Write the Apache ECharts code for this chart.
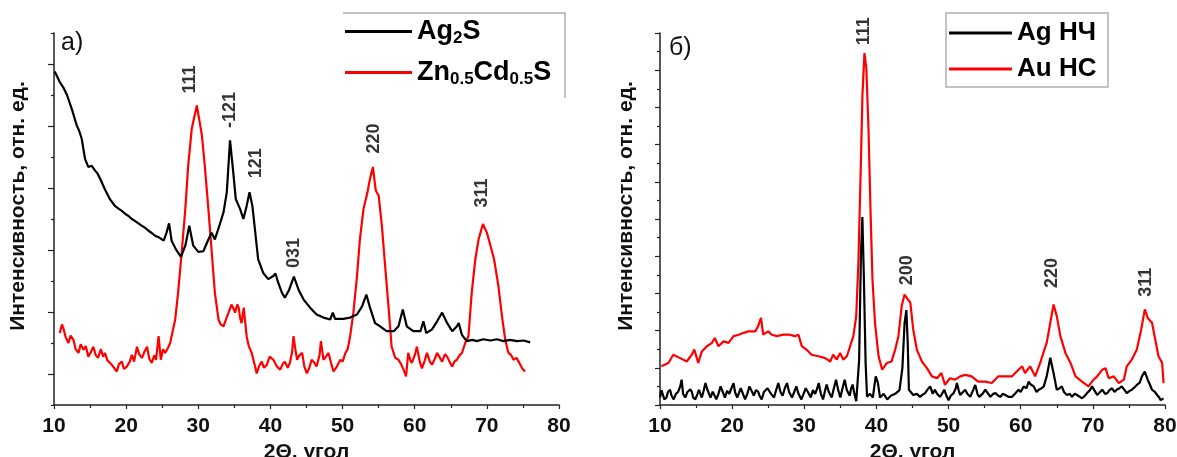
<!DOCTYPE html>
<html><head><meta charset="utf-8">
<script src="https://cdn.jsdelivr.net/npm/echarts@6/dist/echarts.min.js"></script>
<style>html,body{margin:0;padding:0;background:#fff}#c{width:1177px;height:457px}</style>
</head><body><div id="c"></div>
<script>
// ---------- DATA ----------
const xMin = 10, xMax = 80, xStep = 10;
const yMaxA = 6, yMaxB = 10;
const xAxisTitle = '2Θ, угол';
const yAxisTitle = 'Интенсивность, отн. ед.';
const panelLabels = ['а)', 'б)'];
const seriesNamesA = ['Ag2S', 'Zn0.5Cd0.5S'];
const seriesNamesB = ['Ag НЧ', 'Au НС'];

const ag2s = [[10.1,5.38],[10.8,5.21],[11.3,5.12],[11.8,5.0],[12.45,4.78],[13.15,4.51],[13.5,4.42],[13.85,4.29],[14.3,3.97],[14.75,3.84],[15.2,3.86],[15.7,3.78],[16.0,3.74],[16.4,3.65],[17.05,3.48],[17.75,3.32],[18.45,3.21],[18.9,3.17],[19.4,3.13],[19.9,3.08],[20.3,3.05],[20.8,3.0],[21.2,2.97],[21.7,2.93],[22.2,2.89],[22.6,2.86],[23.1,2.81],[23.6,2.77],[24.0,2.73],[24.6,2.7],[25.2,2.65],[25.6,2.78],[25.95,2.93],[26.3,2.65],[26.9,2.51],[27.6,2.39],[28.2,2.57],[28.75,2.89],[29.3,2.57],[30.0,2.47],[30.7,2.48],[31.4,2.67],[31.85,2.78],[32.3,2.67],[33.0,2.92],[33.5,3.11],[33.95,3.43],[34.4,4.27],[34.8,3.81],[35.2,3.32],[35.8,3.16],[36.25,3.0],[36.7,3.21],[37.1,3.43],[37.5,3.21],[37.9,2.78],[38.3,2.35],[39.0,2.13],[39.7,2.03],[40.4,2.08],[40.7,2.12],[41.0,2.0],[41.6,1.81],[42.0,1.73],[42.6,1.86],[43.25,2.07],[43.9,1.86],[44.6,1.7],[45.5,1.57],[46.4,1.46],[47.35,1.41],[48.3,1.38],[48.65,1.49],[48.97,1.39],[50.1,1.39],[51.05,1.41],[52.0,1.46],[52.7,1.59],[53.3,1.78],[53.8,1.57],[54.5,1.32],[55.2,1.27],[56.1,1.19],[57.1,1.19],[57.75,1.27],[58.35,1.54],[58.9,1.27],[59.8,1.19],[60.8,1.19],[61.2,1.35],[61.6,1.16],[62.4,1.22],[63.1,1.35],[63.8,1.49],[64.5,1.32],[65.2,1.19],[65.85,1.27],[66.1,1.32],[66.55,1.13],[67.2,1.03],[68.0,1.05],[68.6,1.03],[69.5,1.06],[70.5,1.04],[71.4,1.06],[72.3,1.03],[73.2,1.05],[74.2,1.03],[75.1,1.04],[76.0,1.01]];

const znCdS = [[10.8,1.16],[11.1,1.3],[11.3,1.24],[11.6,1.1],[12.0,1.0],[12.3,1.12],[12.7,1.05],[13.0,0.9],[13.4,0.84],[13.7,0.98],[14.1,0.89],[14.4,0.95],[14.76,0.78],[15.1,0.85],[15.45,0.94],[15.8,0.8],[16.1,0.76],[16.5,0.9],[16.8,0.78],[17.07,0.84],[17.4,0.72],[17.77,0.68],[18.2,0.62],[18.7,0.54],[19.0,0.66],[19.4,0.7],[19.7,0.58],[20.1,0.62],[20.5,0.7],[20.8,0.81],[21.1,0.7],[21.5,0.94],[21.8,0.82],[22.2,0.76],[22.5,0.85],[22.9,0.94],[23.2,0.75],[23.55,0.68],[23.9,0.8],[24.15,0.73],[24.5,1.11],[24.8,0.73],[25.1,0.9],[25.4,0.84],[25.8,0.92],[26.1,1.0],[26.8,1.38],[27.2,1.81],[27.7,2.46],[28.2,3.16],[28.6,3.86],[29.1,4.46],[29.4,4.62],[29.8,4.83],[30.15,4.59],[30.5,4.35],[30.9,3.86],[31.4,3.16],[31.87,2.46],[32.3,1.81],[32.8,1.38],[33.1,1.3],[33.5,1.27],[33.9,1.4],[34.2,1.49],[34.6,1.62],[34.9,1.55],[35.1,1.49],[35.4,1.62],[35.6,1.57],[35.8,1.4],[36.0,1.32],[36.3,1.57],[36.7,1.11],[37.0,0.95],[37.4,0.84],[37.7,0.7],[38.1,0.51],[38.4,0.62],[38.8,0.7],[39.1,0.6],[39.5,0.65],[39.9,0.78],[40.4,0.73],[40.9,0.62],[41.35,0.57],[41.7,0.66],[42.0,0.7],[42.4,0.6],[42.7,0.68],[43.0,0.85],[43.2,1.11],[43.45,0.9],[43.7,0.73],[44.0,0.8],[44.4,0.84],[44.7,0.62],[45.05,0.51],[45.4,0.6],[45.7,0.73],[46.1,0.68],[46.4,0.62],[46.8,0.8],[47.0,1.03],[47.35,0.73],[47.7,0.78],[48.05,0.84],[48.4,0.68],[48.75,0.54],[49.2,0.62],[49.7,0.73],[50.0,0.7],[50.4,0.84],[50.7,0.9],[51.05,1.11],[51.5,1.49],[52.0,2.08],[52.4,2.67],[52.9,3.16],[53.45,3.43],[53.8,3.65],[54.2,3.84],[54.6,3.46],[55.0,3.38],[55.45,2.89],[55.9,2.24],[56.4,1.54],[56.8,0.94],[57.3,0.76],[57.75,0.73],[58.1,0.66],[58.45,0.57],[58.8,0.46],[59.1,0.84],[59.4,0.72],[59.6,0.68],[60.0,0.8],[60.3,0.94],[60.7,0.7],[61.0,0.59],[61.4,0.72],[61.7,0.84],[62.1,0.7],[62.4,0.65],[62.8,0.75],[63.1,0.84],[63.5,0.76],[63.8,0.7],[64.2,0.82],[64.5,0.78],[64.9,0.68],[65.2,0.62],[65.5,0.7],[65.85,0.73],[66.2,0.8],[66.55,0.84],[67.0,1.0],[67.45,1.11],[67.9,1.81],[68.4,2.35],[68.85,2.67],[69.45,2.92],[70.0,2.78],[70.5,2.57],[71.0,2.35],[71.6,1.92],[72.1,1.43],[72.55,1.05],[73.0,0.84],[73.4,0.8],[73.7,0.73],[74.1,0.76],[74.4,0.7],[74.9,0.59],[75.3,0.54]];

const agNP = [[10.0,0.2],[10.2,0.4],[10.4,0.45],[10.6,0.15],[10.9,0.2],[11.1,0.35],[11.4,0.41],[11.6,0.25],[11.9,0.15],[12.2,0.3],[12.5,0.35],[12.8,0.5],[13.0,0.68],[13.2,0.3],[13.5,0.2],[13.8,0.35],[14.0,0.3],[14.2,0.42],[14.4,0.36],[14.6,0.2],[14.9,0.15],[15.2,0.3],[15.4,0.41],[15.6,0.3],[15.8,0.2],[16.0,0.35],[16.3,0.59],[16.5,0.45],[16.8,0.3],[17.0,0.2],[17.3,0.36],[17.5,0.28],[17.8,0.15],[18.1,0.3],[18.4,0.5],[18.7,0.35],[19.0,0.2],[19.3,0.38],[19.6,0.3],[19.9,0.45],[20.2,0.59],[20.4,0.35],[20.7,0.2],[20.9,0.3],[21.2,0.45],[21.5,0.3],[21.8,0.15],[22.1,0.3],[22.4,0.5],[22.7,0.38],[23.0,0.25],[23.3,0.4],[23.6,0.36],[23.8,0.25],[24.1,0.15],[24.4,0.35],[24.6,0.3],[24.9,0.45],[25.1,0.5],[25.4,0.3],[25.8,0.2],[26.1,0.4],[26.4,0.59],[26.7,0.35],[27.0,0.25],[27.3,0.45],[27.6,0.59],[27.9,0.35],[28.3,0.2],[28.6,0.35],[28.9,0.5],[29.2,0.3],[29.6,0.15],[29.9,0.3],[30.2,0.45],[30.5,0.35],[30.9,0.2],[31.2,0.4],[31.5,0.3],[31.8,0.45],[32.0,0.59],[32.3,0.3],[32.6,0.15],[32.9,0.4],[33.1,0.55],[33.4,0.35],[33.8,0.2],[34.1,0.45],[34.4,0.68],[34.7,0.4],[35.0,0.2],[35.3,0.45],[35.6,0.68],[35.9,0.4],[36.3,0.25],[36.5,0.45],[36.7,0.55],[36.95,0.3],[37.2,0.1],[37.6,1.2],[37.85,4.0],[38.05,5.05],[38.25,3.5],[38.5,1.13],[38.7,0.22],[39.1,0.3],[39.5,0.2],[39.9,0.77],[40.2,0.6],[40.5,0.2],[41.0,0.3],[41.5,0.15],[42.0,0.25],[42.6,0.3],[43.2,0.4],[43.6,1.0],[43.9,2.2],[44.15,2.55],[44.35,1.6],[44.5,0.41],[45.1,0.27],[45.6,0.3],[46.05,0.22],[46.4,0.28],[46.75,0.32],[47.1,0.42],[47.45,0.5],[47.8,0.3],[48.1,0.41],[48.4,0.3],[48.8,0.22],[49.1,0.3],[49.4,0.41],[49.7,0.25],[50.0,0.13],[50.3,0.25],[50.7,0.32],[51.0,0.45],[51.15,0.59],[51.4,0.4],[51.6,0.27],[52.0,0.35],[52.3,0.41],[52.6,0.3],[53.0,0.22],[53.4,0.4],[53.7,0.54],[54.0,0.3],[54.25,0.22],[54.7,0.3],[55.1,0.41],[55.5,0.3],[55.8,0.22],[56.2,0.3],[56.5,0.32],[56.9,0.25],[57.2,0.22],[57.5,0.3],[57.85,0.27],[58.3,0.22],[58.8,0.22],[59.2,0.3],[59.7,0.41],[60.0,0.35],[60.4,0.5],[60.8,0.45],[61.1,0.63],[61.4,0.55],[61.8,0.5],[62.2,0.35],[62.5,0.41],[62.9,0.45],[63.2,0.5],[63.6,0.77],[64.1,1.27],[64.55,0.86],[65.0,0.41],[65.4,0.45],[65.7,0.5],[66.0,0.35],[66.4,0.27],[66.8,0.3],[67.1,0.22],[67.5,0.3],[67.8,0.27],[68.2,0.22],[68.5,0.18],[68.9,0.25],[69.2,0.32],[69.6,0.4],[69.9,0.5],[70.2,0.4],[70.6,0.27],[71.0,0.35],[71.3,0.41],[71.7,0.3],[72.0,0.32],[72.3,0.4],[72.65,0.45],[73.0,0.35],[73.3,0.41],[73.7,0.45],[74.0,0.5],[74.4,0.4],[74.7,0.32],[75.1,0.38],[75.4,0.41],[75.8,0.48],[76.1,0.54],[76.5,0.6],[76.8,0.77],[77.2,0.9],[77.6,0.68],[77.9,0.55],[78.2,0.41],[78.6,0.35],[78.9,0.27],[79.2,0.2],[79.4,0.13],[79.8,0.18]];

const auNS = [[10.2,1.04],[11.15,1.13],[11.85,1.35],[12.8,1.26],[13.7,1.17],[14.4,1.35],[14.76,1.49],[15.3,1.13],[15.8,1.44],[16.5,1.58],[17.2,1.67],[17.6,1.8],[18.1,1.58],[18.8,1.71],[19.5,1.67],[20.2,1.85],[20.9,1.89],[21.6,1.94],[22.25,1.98],[23.2,1.98],[23.6,2.12],[24.0,2.34],[24.3,1.89],[25.0,1.98],[25.5,1.89],[26.2,1.85],[27.1,1.89],[28.0,1.89],[28.7,1.85],[29.2,1.89],[29.65,1.58],[30.3,1.49],[31.0,1.35],[31.95,1.31],[32.9,1.26],[33.6,1.17],[34.0,1.35],[34.5,1.22],[34.97,1.4],[35.4,1.22],[35.9,1.31],[36.35,1.58],[36.8,1.85],[37.2,2.39],[37.5,3.83],[37.85,6.53],[38.06,8.33],[38.34,9.46],[38.6,9.05],[38.9,7.43],[39.2,5.09],[39.45,3.38],[39.8,2.21],[40.3,1.31],[40.8,0.95],[41.45,1.13],[42.1,1.17],[42.6,1.49],[43.05,1.85],[43.5,2.66],[43.9,2.97],[44.35,2.84],[44.7,2.75],[45.1,2.03],[45.6,1.49],[46.3,1.17],[47.0,0.99],[47.7,0.77],[48.4,0.72],[49.0,0.86],[49.5,0.54],[50.2,0.72],[50.9,0.68],[51.6,0.77],[52.3,0.81],[53.2,0.77],[54.1,0.63],[55.1,0.63],[56.0,0.59],[56.9,0.77],[57.85,0.77],[58.8,0.77],[59.45,0.9],[60.2,1.04],[60.6,0.86],[61.3,1.04],[62.0,0.77],[62.7,1.13],[63.2,1.44],[63.6,1.67],[64.1,2.21],[64.55,2.7],[65.0,2.39],[65.5,1.85],[66.2,1.4],[66.9,1.13],[67.6,0.77],[68.5,0.63],[69.4,0.5],[70.1,0.68],[70.6,0.77],[71.3,0.95],[71.75,0.99],[72.2,0.72],[72.9,0.77],[73.6,0.59],[74.3,0.68],[74.7,1.04],[75.4,1.22],[76.1,1.49],[76.7,2.03],[77.2,2.57],[77.6,2.34],[78.2,2.21],[78.65,1.76],[79.1,1.31],[79.6,1.13],[79.8,0.59]];

// peak annotations: [2θ, intensity, hkl]
const peaksA = [[28.9,5.25,'111'],[34.4,4.76,'-121'],[38.0,3.9,'121'],[43.3,2.45,'031'],[54.3,4.3,'220'],[69.3,3.42,'311']];
const peaksB = [[38.3,10.05,'111'],[44.2,3.62,'200'],[64.4,3.55,'220'],[77.4,3.3,'311']];

// ---------- CHART ----------
const FONT = '"Liberation Sans", Arial, sans-serif';
const chart = echarts.init(document.getElementById('c'), null, {renderer: 'canvas'});

function xAxisCfg(gi) {
  return {
    type: 'value', gridIndex: gi, min: xMin, max: xMax, interval: xStep,
    name: xAxisTitle, nameLocation: 'middle', nameGap: 35,
    nameTextStyle: {fontFamily: FONT, fontWeight: 'bold', fontSize: 21, color: '#111'},
    axisLine: {show: true, onZero: false, lineStyle: {color: '#222', width: 1.5}},
    axisTick: {show: true, length: 4, lineStyle: {color: '#222', width: 1.2}},
    minorTick: {show: true, splitNumber: 2, length: 3, lineStyle: {color: '#222', width: 1.2}},
    axisLabel: {fontFamily: FONT, fontWeight: 'bold', fontSize: 21, color: '#111', margin: 11},
    splitLine: {show: false}
  };
}
function yAxisCfg(gi, max, majLen, minLen, gap) {
  return {
    type: 'value', gridIndex: gi, min: 0, max: max, interval: 1,
    name: yAxisTitle, nameLocation: 'middle', nameGap: gap,
    nameTextStyle: {fontFamily: FONT, fontWeight: 'bold', fontSize: 21, color: '#111', padding: [0, 0, 0, 26]},
    axisLine: {show: true, onZero: false, lineStyle: {color: '#222', width: 1.5}},
    axisTick: {show: true, length: majLen, lineStyle: {color: '#222', width: 1.2}},
    minorTick: {show: true, splitNumber: 2, length: minLen, lineStyle: {color: '#222', width: 1.2}},
    axisLabel: {show: false},
    splitLine: {show: false}
  };
}
function lineSeries(name, data, color, xi) {
  return {
    name: name, type: 'line', xAxisIndex: xi, yAxisIndex: xi, data: data,
    showSymbol: false, symbol: 'none', smooth: false, animation: false,
    lineStyle: {color: color, width: 2.2}, itemStyle: {color: color}, z: color === '#000000' ? 3 : 2
  };
}
function peakSeries(data, xi) {
  return {
    type: 'scatter', xAxisIndex: xi, yAxisIndex: xi, data: data, symbolSize: 0, clip: false,
    silent: true, animation: false,
    label: {show: true, position: 'inside', rotate: 90, formatter: p => p.value[2],
      fontFamily: FONT, fontWeight: 'bold', fontSize: 18, color: '#000'}
  };
}

const rich = {
  n: {fontFamily: FONT, fontWeight: 'bold', fontSize: 27, color: '#000'},
  s: {fontFamily: FONT, fontWeight: 'bold', fontSize: 17, color: '#000', padding: [14, 0, 0, 0]}
};
function fmtA(name) {
  if (name === 'Ag2S') return '{n|Ag}{s|2}{n|S}';
  return '{n|Zn}{s|0.5}{n|Cd}{s|0.5}{n|S}';
}

chart.setOption({
  backgroundColor: '#ffffff',
  animation: false,
  grid: [
    {left: 54, top: 33, width: 505, height: 372, outerBoundsMode: 'none', containLabel: false},
    {left: 660, top: 33, width: 505, height: 372, outerBoundsMode: 'none', containLabel: false}
  ],
  xAxis: [xAxisCfg(0), xAxisCfg(1)],
  yAxis: [yAxisCfg(0, yMaxA, 3, 6, 25), yAxisCfg(1, yMaxB, 5, 3, 23)],
  legend: [
    {data: seriesNamesA, orient: 'vertical', left: 345, top: 18, padding: 0, itemGap: 12,
     itemWidth: 67, itemHeight: 3, icon: 'rect', formatter: fmtA,
     textStyle: {rich: rich}, selectedMode: false},
    {data: seriesNamesB, orient: 'vertical', left: 949, top: 20, padding: 0, itemGap: 10,
     itemWidth: 63, itemHeight: 3, icon: 'rect',
     textStyle: {fontFamily: FONT, fontWeight: 'bold', fontSize: 26, color: '#000'}, selectedMode: false}
  ],
  graphic: [
    {type: 'polyline', silent: true, shape: {points: [[343, 13], [565, 13], [565, 98]]},
     style: {stroke: '#b0b0b0', lineWidth: 1.5, fill: null}},
    {type: 'rect', silent: true, shape: {x: 946, y: 13, width: 162, height: 74},
     style: {stroke: '#b0b0b0', lineWidth: 1.5, fill: null}},
    {type: 'text', silent: true, left: 61, top: 31,
     style: {text: panelLabels[0], fontFamily: FONT, fontSize: 25, fill: '#111'}},
    {type: 'text', silent: true, left: 669, top: 36,
     style: {text: panelLabels[1], fontFamily: FONT, fontSize: 25, fill: '#111'}}
  ],
  series: [
    lineSeries(seriesNamesA[0], ag2s, '#000000', 0),
    lineSeries(seriesNamesA[1], znCdS, '#ff0000', 0),
    lineSeries(seriesNamesB[0], agNP, '#000000', 1),
    lineSeries(seriesNamesB[1], auNS, '#ff0000', 1),
    peakSeries(peaksA, 0),
    peakSeries(peaksB, 1)
  ]
});
</script></body></html>
